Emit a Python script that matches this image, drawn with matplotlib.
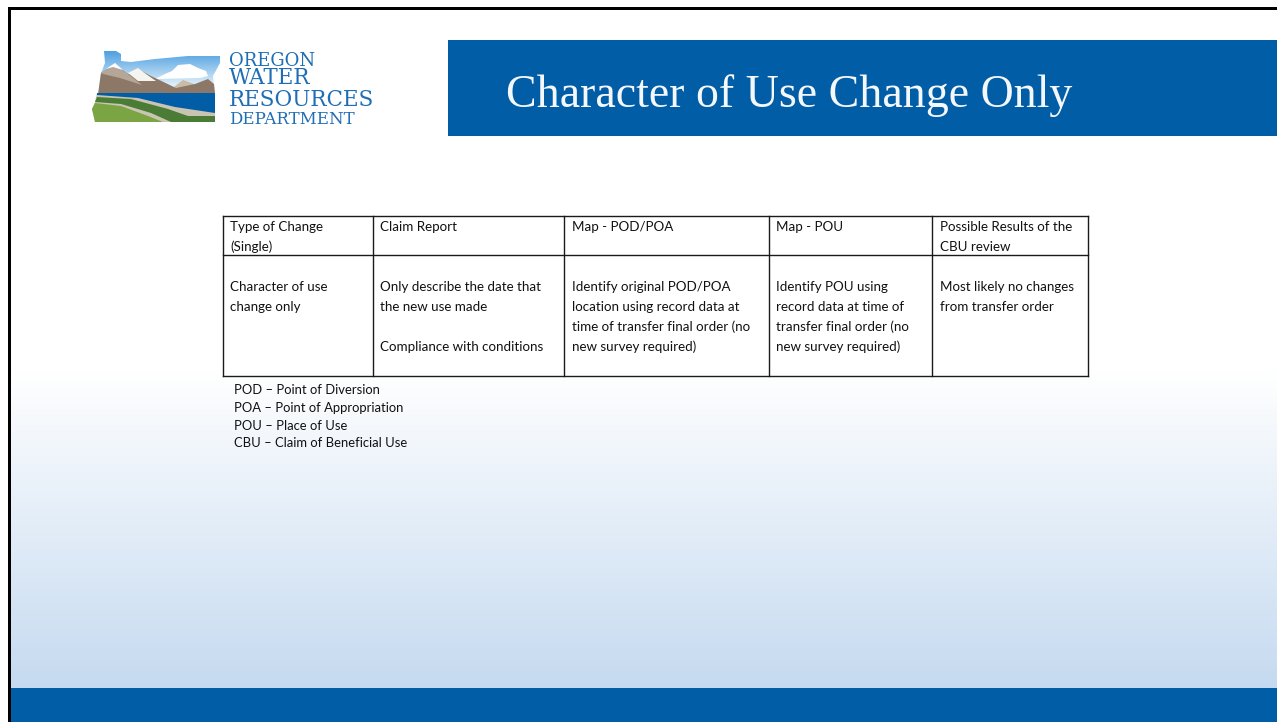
import numpy as np
import matplotlib.pyplot as plt
from matplotlib.patches import Polygon, Rectangle

W, H = 1277, 722

# table content
headers = ["Type of Change\n(Single)", "Claim Report", "Map - POD/POA", "Map - POU",
           "Possible Results of the\nCBU review"]
row_cells = [
    ["Character of use", "change only"],
    ["Only describe the date that", "the new use made", "", "Compliance with conditions"],
    ["Identify original POD/POA", "location using record data at", "time of transfer final order (no", "new survey required)"],
    ["Identify POU using", "record data at time of", "transfer final order (no", "new survey required)"],
    ["Most likely no changes", "from transfer order"],
]
notes = ["POD – Point of Diversion", "POA – Point of Appropriation", "POU – Place of Use",
         "CBU – Claim of Beneficial Use"]
logo_words = ["OREGON", "WATER", "RESOURCES", "DEPARTMENT"]
title = "Character of Use Change Only"

col_edges = [223, 373, 564, 769, 932, 1088]
row_edges = [216, 255, 376]

BLUE = '#005DA6'
plt.rcParams['font.family'] = ['Lato', 'DejaVu Sans']

fig = plt.figure(figsize=(W / 100, H / 100), dpi=100)
ax = fig.add_axes([0, 0, 1, 1])

# background gradient, white until about y=370
ys = np.linspace(0, 1, 400).reshape(-1, 1)
top = np.array([255, 255, 255]) / 255
bot = np.array([197, 218, 240]) / 255
grad = top + (bot - top) * ys[..., None]
ax.imshow(grad, extent=[10, W, 688, 370], aspect='auto', zorder=0)

# bottom band, title band and slide border
ax.add_patch(Rectangle((10, 688), W - 10, 34, color=BLUE, lw=0, zorder=1))
ax.add_patch(Rectangle((448, 40), W - 448, 96, color=BLUE, lw=0, zorder=1))
ax.add_patch(Rectangle((8, 7), W - 8, 3, color='black', lw=0, zorder=2))
ax.add_patch(Rectangle((8, 7), 3, H - 7, color='black', lw=0, zorder=2))
ax.text(506, 96, title, color='#F4F7FB', fontsize=33, family='Liberation Serif', va='center', ha='left', zorder=3)

# logo, rough shape of the state with landscape bands
sky = Polygon([(104, 51), (116, 51), (121, 54), (121, 61), (131, 62), (155, 59), (188, 56), (220, 56), (220, 63),
               (213, 76), (215, 93), (98, 94), (101, 73), (105, 63)], color='none', lw=0, zorder=2)
ax.add_patch(sky)
sky_top = np.array([78, 160, 225]) / 255
sky_bot = np.array([235, 245, 252]) / 255
sky_img = sky_top + (sky_bot - sky_top) * np.linspace(0, 1, 60).reshape(-1, 1)[..., None]
im = ax.imshow(sky_img, extent=[95, 222, 88, 51], aspect='auto', zorder=2)
im.set_clip_path(sky)
cloud = [(155, 79), (165, 74), (172, 71), (178, 65), (190, 64), (198, 68), (206, 71), (208, 76), (200, 78)]
ax.add_patch(Polygon(cloud, color='white', lw=0, zorder=2))
ax.add_patch(Polygon([(170, 90), (183, 80), (197, 85), (197, 90)], color='#C9BBA6', lw=0, zorder=2))
mountain = [(98, 94), (101, 73), (115, 64), (128, 74), (138, 69), (151, 76), (176, 88), (195, 84), (208, 79),
            (214, 84), (215, 93)]
ax.add_patch(Polygon(mountain, color='#8D7868', lw=0, zorder=3))
ax.add_patch(Polygon([(101, 73), (115, 64), (128, 74), (142, 85), (120, 78), (103, 74)], color='#B5A797', lw=0, zorder=3))
ax.add_patch(Polygon([(106, 69), (115, 63), (123, 70), (113, 67)], color='white', lw=0, zorder=3))
ax.add_patch(Polygon([(128, 73), (138, 68), (146, 74), (156, 81), (138, 81)], color='#F4F4F0', lw=0, zorder=3))
# beige under everything below the water shows through as the stripes
ax.add_patch(Polygon([(97, 93), (215, 93), (215, 122), (95, 122), (92, 109), (95, 102)], color='#C9C5B2', lw=0, zorder=3))
ax.add_patch(Polygon([(97, 93), (215, 93), (215, 113), (175, 107), (138, 98), (97, 95)], color=BLUE, lw=0, zorder=3))
ax.add_patch(Polygon([(97, 97), (131, 99), (168, 109), (188, 116), (215, 116), (215, 122), (171, 122), (151, 113),
                      (121, 104), (95, 102)], color='#4B7C35', lw=0, zorder=3))
ax.add_patch(Polygon([(95, 103), (121, 106), (148, 116), (163, 122), (95, 122), (92, 109)], color='#7BA443', lw=0, zorder=3))

word_y = [61, 78.5, 100, 119]
word_size = [13, 15.5, 15.5, 12]
for word, y, size in zip(logo_words, word_y, word_size):
    ax.text(229, y, word, color='#1F6DB5', fontsize=size, family='DejaVu Serif',
            va='center', ha='left', zorder=3)

# table
for x in col_edges:
    ax.plot([x, x], [row_edges[0], row_edges[-1]], color='#1a1a1a', lw=1.0, zorder=4)
for y in row_edges:
    ax.plot([col_edges[0], col_edges[-1]], [y, y], color='#1a1a1a', lw=1.0, zorder=4)

for left, head in zip(col_edges, headers):
    for i, line in enumerate(head.split("\n")):
        ax.text(left + 7.5, 227 + i * 20, line, fontsize=9.65, color='#111111', va='center', ha='left', zorder=5)
for left, lines in zip(col_edges, row_cells):
    for i, line in enumerate(lines):
        ax.text(left + 7.5, 287 + i * 20, line, fontsize=9.65, color='#111111', va='center', ha='left', zorder=5)

# abbreviations under the table
for i, line in enumerate(notes):
    ax.text(234, 390 + i * 17.8, line, fontsize=9.4, color='#111111', va='center', ha='left', zorder=5)

ax.set_xlim(0, W)
ax.set_ylim(H, 0)
ax.axis('off')

fig.savefig('out.png', dpi=100)
